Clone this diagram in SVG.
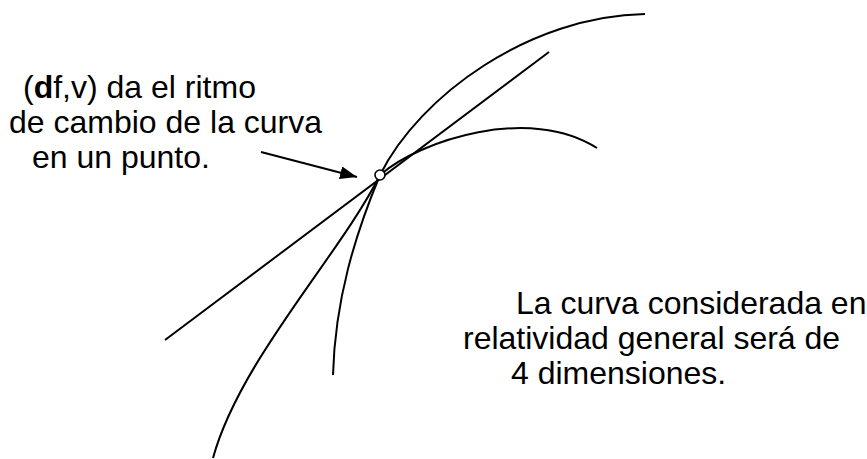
<svg xmlns="http://www.w3.org/2000/svg" width="867" height="459" viewBox="0 0 867 459">
<style>
.ln{fill:none;stroke:#000;stroke-width:2}
.t{font-family:"Liberation Sans",Arial,sans-serif;font-size:32px;fill:#000}
</style>
<defs>
<marker id="ah" markerUnits="userSpaceOnUse" markerWidth="18" markerHeight="14" refX="17" refY="6.5" orient="auto">
<path d="M0,0 L17,6.5 L0,13 z" fill="#000"/>
</marker>
</defs>
<rect width="867" height="459" fill="#fff"/>
<g id="connectors">
<path id="curveA" class="ln" d="M645,14 C530,16 420,95 380,175 C340,255 240,360 213,458"/>
<path id="tangent" class="ln" d="M165,340 L549,52"/>
<path id="curveC" class="ln" d="M333,375 C335,300 355,235 380,175 C420,140 530,105 597,148"/>
<path id="arrow" class="ln" d="M261,152 L357,177" marker-end="url(#ah)"/>
</g>
<g id="point">
<circle cx="380" cy="175" r="5" fill="#fff" stroke="#000" stroke-width="1.6"/>
</g>
<g id="label-left">
<text class="t" x="23" y="98">(<tspan font-weight="bold">d</tspan>f,v) da el ritmo</text>
<text class="t" x="9" y="133">de cambio de la curva</text>
<text class="t" x="32" y="168">en un punto.</text>
</g>
<g id="label-right">
<text class="t" x="516" y="314">La curva considerada en</text>
<text class="t" x="463" y="349">relatividad general será de</text>
<text class="t" x="511" y="384">4 dimensiones.</text>
</g>
</svg>
